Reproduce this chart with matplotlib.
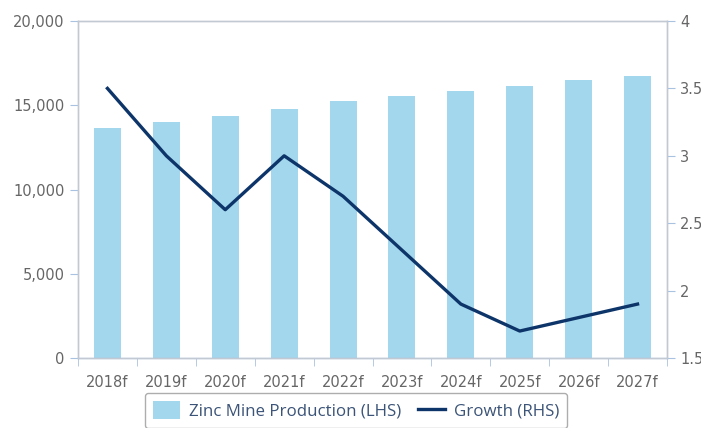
import numpy as np
import matplotlib.pyplot as plt
from matplotlib.ticker import FuncFormatter, MultipleLocator

years = ["2018f", "2019f", "2020f", "2021f", "2022f", "2023f", "2024f", "2025f", "2026f", "2027f"]
production = [13650, 14000, 14350, 14780, 15250, 15550, 15850, 16130, 16500, 16730]
growth = [3.5, 3.0, 2.6, 3.0, 2.7, 2.3, 1.9, 1.7, 1.8, 1.9]

bar_color = "#a3d7ee"
line_color = "#0d3569"
spine_color = "#c3c9d3"
tick_color = "#a9c2e0"
label_color = "#666666"

fig = plt.figure(figsize=(7.01, 4.28), dpi=100)
ax = fig.add_axes([78 / 701, 1 - 358 / 428, (667 - 78) / 701, (358 - 21) / 428])
ax2 = ax.twinx()

x = np.arange(len(years))
bars = ax.bar(x, production, width=0.46, color=bar_color, label="Zinc Mine Production (LHS)", zorder=2)
line, = ax2.plot(x, growth, color=line_color, lw=2.4, label="Growth (RHS)", zorder=3)

ax.set_xlim(-0.5, len(years) - 0.5)
ax.set_ylim(0, 20000)
ax.yaxis.set_major_locator(MultipleLocator(5000))
ax.yaxis.set_major_formatter(FuncFormatter(lambda v, p: f"{v:,.0f}"))
ax2.set_ylim(1.5, 4)
ax2.yaxis.set_major_locator(MultipleLocator(0.5))
ax2.yaxis.set_major_formatter(FuncFormatter(lambda v, p: f"{v:g}"))

ax.set_xticks(x)
ax.set_xticklabels(years)
ax.set_xticks(np.arange(len(years) + 1) - 0.5, minor=True)
ax.tick_params(axis="x", which="major", length=0, pad=12, labelsize=10.5, labelcolor=label_color)
ax.tick_params(axis="x", which="minor", length=6, color=tick_color, direction="out")
ax.tick_params(axis="y", length=6, color=tick_color, labelsize=10.5, labelcolor=label_color)
ax2.tick_params(axis="y", length=6, color=tick_color, labelsize=10.5, labelcolor=label_color)

for a in (ax, ax2):
    for s in a.spines.values():
        s.set_color(spine_color)
        s.set_linewidth(1.0)
ax.spines["bottom"].set_color(tick_color)

leg = fig.legend(handles=[bars, line], loc="upper center", bbox_to_anchor=(0.508, 1 - 393 / 428),
                 borderaxespad=0, ncol=2, frameon=True, prop={"family": "Open Sans", "size": 12.2},
                 handlelength=1.6, handleheight=1.2, columnspacing=1.0, handletextpad=0.5,
                 borderpad=0.5, fancybox=True)
leg.get_frame().set_edgecolor("#999999")
leg.get_frame().set_linewidth(1.0)
for t in leg.get_texts():
    t.set_color("#3b5478")

fig.savefig("out.png", dpi=100)
